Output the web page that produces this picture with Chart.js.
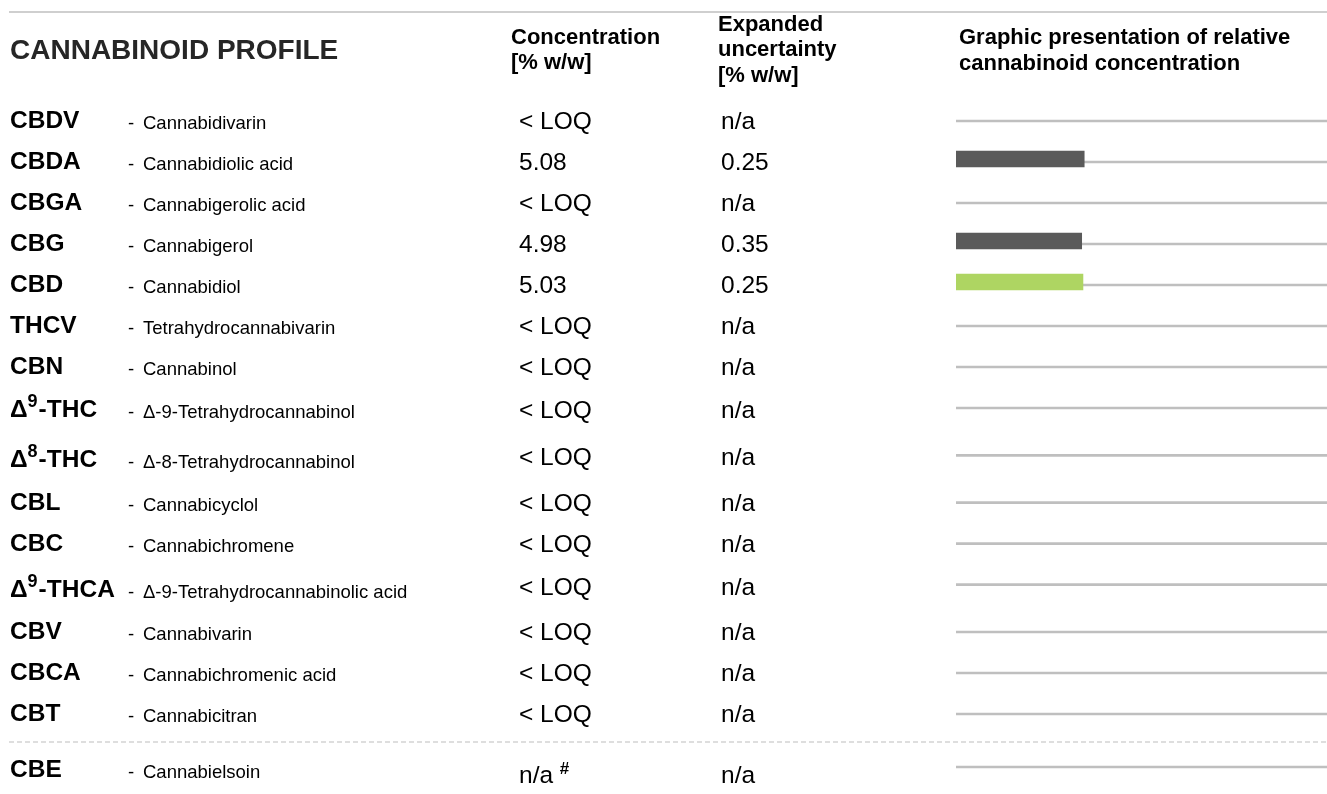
<!DOCTYPE html>
<html>
<head>
<meta charset="utf-8">
<title>Cannabinoid profile</title>
<script src="https://cdn.jsdelivr.net/npm/chart.js@4.4.1/dist/chart.umd.min.js"></script>
<style>
  html, body { margin: 0; padding: 0; background: #fff; }
  #wrap { position: relative; width: 1327px; height: 794px; }
</style>
</head>
<body>
<div id="wrap"><canvas id="profile"></canvas></div>
<script>
// ^x = superscript character
const abbreviations = ['CBDV', 'CBDA', 'CBGA', 'CBG', 'CBD', 'THCV', 'CBN', 'Δ^9-THC', 'Δ^8-THC',
  'CBL', 'CBC', 'Δ^9-THCA', 'CBV', 'CBCA', 'CBT', 'CBE'];
const fullNames = ['Cannabidivarin', 'Cannabidiolic acid', 'Cannabigerolic acid', 'Cannabigerol',
  'Cannabidiol', 'Tetrahydrocannabivarin', 'Cannabinol', 'Δ-9-Tetrahydrocannabinol',
  'Δ-8-Tetrahydrocannabinol', 'Cannabicyclol', 'Cannabichromene',
  'Δ-9-Tetrahydrocannabinolic acid', 'Cannabivarin', 'Cannabichromenic acid', 'Cannabicitran',
  'Cannabielsoin'];
const concentration = ['< LOQ', '5.08', '< LOQ', '4.98', '5.03', '< LOQ', '< LOQ', '< LOQ', '< LOQ',
  '< LOQ', '< LOQ', '< LOQ', '< LOQ', '< LOQ', '< LOQ', 'n/a ^#'];
const uncertainty = ['n/a', '0.25', 'n/a', '0.35', '0.25', 'n/a', 'n/a', 'n/a', 'n/a',
  'n/a', 'n/a', 'n/a', 'n/a', 'n/a', 'n/a', 'n/a'];
const highlighted = ['CBD'];
const separatedFrom = 15;   // CBE sits below the dashed line
const scaleMax = 14.7;      // full width of the graphic column in % w/w

// layout
const ROW = 41, TALL = 6.33, GAP = 12, FIRST = 121, H = 794;
const FONT = '"Liberation Sans", Arial, Helvetica, sans-serif';

const rowPos = [];
let p = 0;
abbreviations.forEach((a, i) => {
  if (i > 0) {
    p += 1;
    if (abbreviations[i - 1].includes('^')) p += TALL / ROW;
    if (i === separatedFrom) p += GAP / ROW;
  }
  rowPos.push(p);
});

const barRows = [];
concentration.forEach((c, i) => {
  const v = parseFloat(c);
  if (!isNaN(v)) barRows.push(i);
});

function drawRich(ctx, text, x, y, size, weight, supSize, supRise) {
  const parts = text.split(/\^(.)/);
  parts.forEach((part, k) => {
    if (!part) return;
    const sup = k % 2 === 1;
    ctx.font = (sup ? 'bold ' : weight + ' ') + (sup ? supSize : size) + 'px ' + FONT;
    ctx.fillText(part, x, sup ? y - supRise : y);
    x += ctx.measureText(part).width + (sup ? 1 : 0);
  });
}

const tableText = {
  id: 'tableText',
  afterDraw(chart) {
    const ctx = chart.ctx;
    const ys = chart.scales.y;
    ctx.save();
    ctx.textBaseline = 'alphabetic';
    ctx.textAlign = 'left';

    // top rule
    ctx.fillStyle = '#cfcfcf';
    ctx.fillRect(9, 11, chart.width - 9, 2);

    ctx.fillStyle = '#262626';
    ctx.font = 'bold 28px ' + FONT;
    ctx.fillText('CANNABINOID PROFILE', 10, 59);

    ctx.fillStyle = '#000';
    ctx.font = 'bold 22px ' + FONT;
    ctx.fillText('Concentration', 511, 44);
    ctx.fillText('[% w/w]', 511, 69);
    ctx.fillText('Expanded', 718, 31);
    ctx.fillText('uncertainty', 718, 56);
    ctx.fillText('[% w/w]', 718, 82);
    ctx.fillText('Graphic presentation of relative', 959, 44);
    ctx.fillText('cannabinoid concentration', 959, 70);

    abbreviations.forEach((abbr, i) => {
      const y = ys.getPixelForValue(rowPos[i]);
      const tall = abbr.includes('^');
      const last = i >= separatedFrom;
      let shift = tall ? 5 : (last ? 3 : 0);
      if (i === 7) shift = 2;
      ctx.fillStyle = '#000';
      drawRich(ctx, abbr, 10, y + 7 + shift, 24.5, 'bold', 18, 10);
      ctx.font = '18.5px ' + FONT;
      ctx.fillText('-', 128, y + 8 + shift);
      ctx.fillText(fullNames[i], 143, y + 8 + shift);
      const vShift = tall ? 2 : (last ? 8 : 0);
      drawRich(ctx, concentration[i], 519, y + 8 + vShift, 24.5, 'normal', 17, 9);
      ctx.font = '24.5px ' + FONT;
      ctx.fillText(uncertainty[i], 721, y + 8 + vShift);
    });

    // dashed separator above the last group
    const ySep = ys.getPixelForValue(rowPos[separatedFrom]) - 25;
    ctx.strokeStyle = '#d4d4d4';
    ctx.lineWidth = 1.5;
    ctx.setLineDash([5, 3]);
    ctx.beginPath();
    ctx.moveTo(9, ySep);
    ctx.lineTo(chart.width, ySep);
    ctx.stroke();
    ctx.restore();
  }
};

new Chart(document.getElementById('profile'), {
  type: 'bar',
  data: {
    datasets: [
      {
        label: 'track',
        data: rowPos.map(y => ({ x: [0, scaleMax], y: y })),
        backgroundColor: '#bfbfbf',
        barThickness: 2,
        grouped: false,
        order: 2,
      },
      {
        label: 'Concentration [% w/w]',
        data: barRows.map(i => ({ x: parseFloat(concentration[i]), y: rowPos[i] - 3 / ROW })),
        backgroundColor: barRows.map(i => highlighted.includes(abbreviations[i]) ? '#aed562' : '#5a5a5a'),
        barThickness: 16,
        grouped: false,
        order: 1,
      },
    ],
  },
  options: {
    indexAxis: 'y',
    responsive: true,
    maintainAspectRatio: false,
    animation: false,
    layout: { padding: { left: 956, right: 0, top: 0, bottom: 0 } },
    plugins: {
      legend: { display: false },
      tooltip: { enabled: false },
    },
    scales: {
      x: { type: 'linear', min: 0, max: scaleMax, display: false },
      y: {
        type: 'linear', reverse: true, offset: false, display: false,
        min: -FIRST / ROW, max: (H - FIRST) / ROW,
      },
    },
  },
  plugins: [tableText],
});
</script>
</body>
</html>
